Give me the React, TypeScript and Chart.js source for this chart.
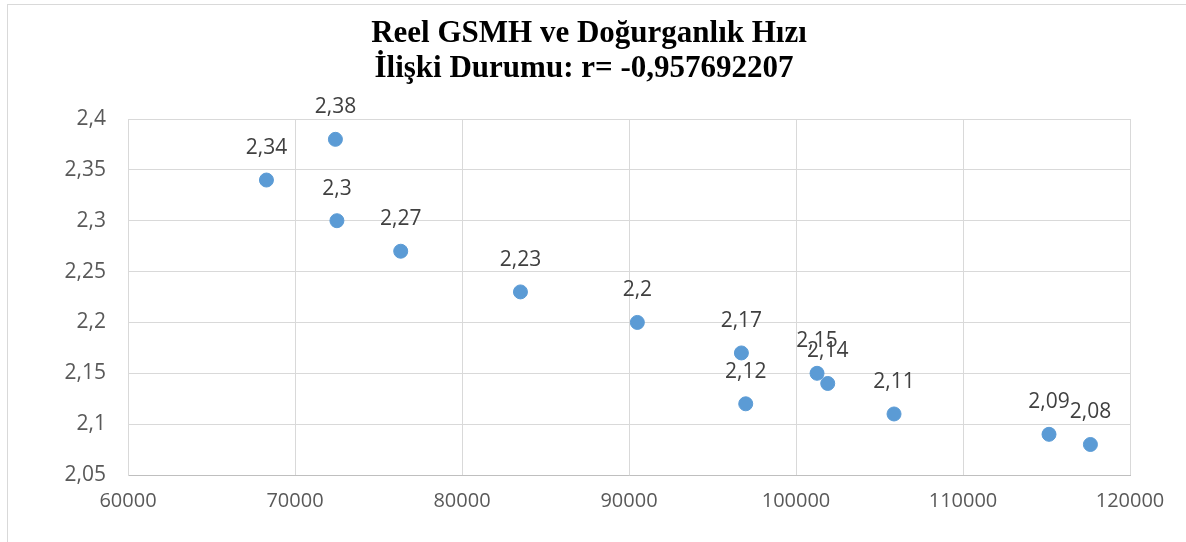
import React, { useEffect, useRef } from "react";
import { Chart, registerables } from "chart.js";

Chart.register(...registerables);

const titleLines = ["Reel GSMH ve Doğurganlık Hızı", "İlişki Durumu: r= -0,957692207"];
const gsmhValues = [68290, 72420, 72510, 76330, 83500, 90500, 96730, 96990, 101260, 101900, 105870, 115150, 117630];
const fertilityValues = [2.34, 2.38, 2.3, 2.27, 2.23, 2.2, 2.17, 2.12, 2.15, 2.14, 2.11, 2.09, 2.08];
const xTicks = [60000, 70000, 80000, 90000, 100000, 110000, 120000];
const yTicks = [2.05, 2.1, 2.15, 2.2, 2.25, 2.3, 2.35, 2.4];

const fmt = (v: number) => String(Math.round(v * 100) / 100).replace(".", ",");

const labelPlugin = {
  id: "pointLabels",
  afterDatasetsDraw(chart: any) {
    const ctx = chart.ctx;
    const meta = chart.getDatasetMeta(0);
    ctx.save();
    ctx.font = "21px 'Open Sans'";
    ctx.fillStyle = "#404040";
    ctx.textAlign = "center";
    ctx.textBaseline = "middle";
    meta.data.forEach((pt: any, i: number) => {
      ctx.fillText(fmt(fertilityValues[i]), pt.x, pt.y - 32);
    });
    ctx.restore();
  },
};

const titlePlugin = {
  id: "customTitle",
  afterDraw(chart: any) {
    const ctx = chart.ctx;
    ctx.save();
    ctx.font = "bold 31px 'Liberation Serif'";
    ctx.fillStyle = "#000000";
    ctx.textAlign = "center";
    ctx.textBaseline = "alphabetic";
    ctx.fillText(titleLines[0], 589, 42);
    ctx.fillText(titleLines[1], 584, 77);
    ctx.restore();
  },
};

export default function App() {
  const ref = useRef<HTMLCanvasElement>(null);
  useEffect(() => {
    if (!ref.current) return;
    const chart = new Chart(ref.current, {
      type: "scatter",
      data: {
        datasets: [
          {
            data: gsmhValues.map((x, i) => ({ x, y: fertilityValues[i] })),
            backgroundColor: "#5B9BD5",
            borderColor: "#5B9BD5",
            pointRadius: 7,
            pointHoverRadius: 7,
          },
        ],
      },
      options: {
        animation: false,
        responsive: false,
        maintainAspectRatio: false,
        layout: { padding: { top: 119, right: 56, left: 0, bottom: 0 } },
        plugins: { legend: { display: false }, tooltip: { enabled: false }, title: { display: false } },
        scales: {
          x: {
            type: "linear",
            min: 60000,
            max: 120000,
            afterBuildTicks: (s: any) => {
              s.ticks = xTicks.map((v) => ({ value: v }));
            },
            afterFit: (s: any) => {
              s.height = 67;
            },
            ticks: { color: "#595959", font: { family: "'Open Sans'", size: 20 }, padding: 14, maxRotation: 0, callback: (v: any) => String(v) },
            grid: { color: "#d9d9d9", lineWidth: 1, drawTicks: false },
            border: { color: "#bfbfbf", width: 1 },
          },
          y: {
            type: "linear",
            min: 2.05,
            max: 2.4,
            afterBuildTicks: (s: any) => {
              s.ticks = yTicks.map((v) => ({ value: v }));
            },
            afterFit: (s: any) => {
              s.width = 128;
            },
            ticks: { color: "#595959", font: { family: "'Open Sans'", size: 21 }, padding: 22, callback: (v: any) => fmt(v) },
            grid: { color: "#d9d9d9", lineWidth: 1, drawTicks: false },
            border: { color: "#d9d9d9", width: 1 },
          },
        },
      },
      plugins: [labelPlugin, titlePlugin],
    });
    return () => chart.destroy();
  }, []);
  return (
    <div style={{ position: "fixed", left: 0, top: 0, width: 1186, height: 542, background: "#fff" }}>
      <div style={{ position: "absolute", left: 7, top: 4, width: 1300, height: 600, borderLeft: "1px solid #d9d9d9", borderTop: "1px solid #d9d9d9" }} />
      <canvas ref={ref} width={1186} height={542} style={{ position: "absolute", left: 0, top: 0, width: 1186, height: 542 }} />
    </div>
  );
}
